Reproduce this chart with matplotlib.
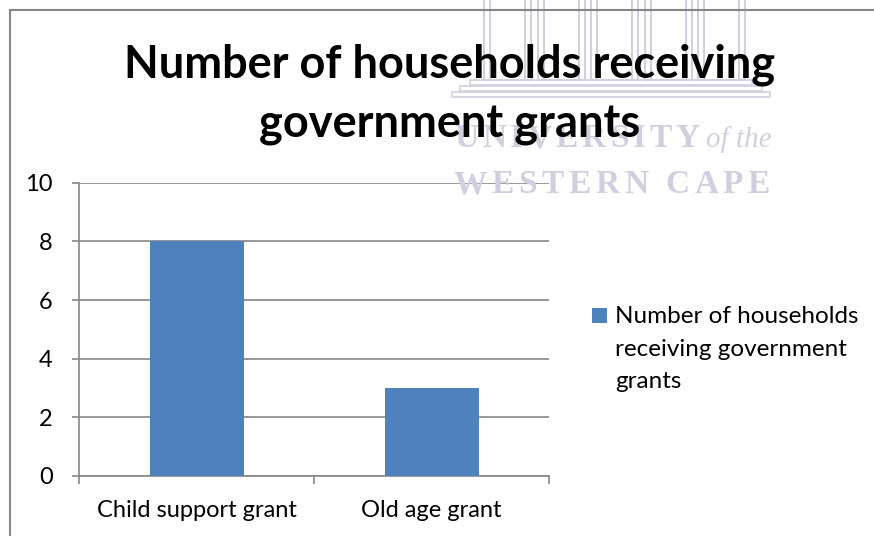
import matplotlib.pyplot as plt
from matplotlib.patches import Rectangle

# Households per grant type
categories = ["Child support grant", "Old age grant"]
households = [8, 3]
legend_lines = ["Number of households", "receiving government", "grants"]
title_lines = ["Number of households receiving", "government grants"]
y_ticks = [0, 2, 4, 6, 8, 10]

BLUE = "#4f81bd"
GRID = "#868686"
MARK = "#cfcfe0"

plt.rcParams['font.family'] = ['Lato', 'DejaVu Sans']

W, H = 874, 536
fig = plt.figure(figsize=(W / 100, H / 100), dpi=100)
renderer = fig.canvas.get_renderer()


def fx(px):
    return px / W


def fy(py):
    return 1 - py / H


# faint university crest behind the chart
for i in range(5):
    x0 = 484 + i * 53.5
    for inset in (0, 6):
        fig.add_artist(Rectangle((fx(x0 + inset), fy(80)), fx(47 - 2 * inset), (80 - inset) / H + 0.02,
                                 transform=fig.transFigure, fill=False, edgecolor=MARK, lw=1.4, zorder=0))
for top, left, right in [(80, 470, 752), (86, 460, 762), (92, 452, 770)]:
    fig.add_artist(Rectangle((fx(left), fy(top + 5)), fx(right - left), 5 / H,
                             transform=fig.transFigure, fill=False, edgecolor=MARK, lw=1.2, zorder=0))


def spaced(text, x0, x1, y, **kw):
    # letter-spaced line of text stretched between x0 and x1
    chars = []
    for ch in text:
        t = fig.text(0, fy(y), ch, ha='left', va='baseline', zorder=0, **kw)
        chars.append((t, t.get_window_extent(renderer).width))
    gap = (x1 - x0 - sum(w for _, w in chars)) / max(len(chars) - 1, 1)
    pos = x0
    for t, w in chars:
        t.set_x(fx(pos))
        pos += w + gap


serif = dict(family='Liberation Serif', fontsize=24, fontweight='bold', color=MARK)
spaced("UNIVERSITY", 454, 700, 147, **serif)
fig.text(fx(706), fy(147), "of the", ha='left', va='baseline', style='italic', zorder=0,
         family='Liberation Serif', fontsize=21, color=MARK)
spaced("WESTERN CAPE", 454, 770, 193, **serif)

# chart area border
fig.add_artist(Rectangle((fx(10), -0.1), 1.2, fy(10) + 0.1, transform=fig.transFigure,
                         fill=False, edgecolor=GRID, lw=1.5, zorder=1))

ax = fig.add_axes([fx(79), fy(476), 470 / W, 293.3 / H])
ax.patch.set_alpha(0)
x = range(len(categories))
ax.bar(x, households, width=0.4, color=BLUE, zorder=3)

ax.set_xlim(-0.5, len(categories) - 0.5)
ax.set_ylim(0, 10)
ax.set_yticks(y_ticks)
ax.set_yticklabels([str(t) for t in y_ticks])
ax.yaxis.grid(True, color=GRID, lw=1.2)
ax.set_axisbelow(True)

ax.set_xticks(list(x))
ax.set_xticklabels(categories)
ax.set_xticks([i - 0.5 for i in range(len(categories) + 1)], minor=True)
ax.tick_params(axis='x', which='major', length=0, pad=17, labelsize=17)
ax.tick_params(axis='x', which='minor', length=6, width=1.2, color=GRID, direction='out')
ax.tick_params(axis='y', length=5, width=1.2, color=GRID, pad=14, labelsize=17)

for side in ('top', 'right'):
    ax.spines[side].set_visible(False)
for side in ('left', 'bottom'):
    ax.spines[side].set_color(GRID)
    ax.spines[side].set_linewidth(1.2)

for line, base in zip(title_lines, (77, 138)):
    fig.text(fx(450), fy(base), line, ha='center', va='baseline',
             fontsize=32.5, fontweight='bold', zorder=5)

# legend
fig.add_artist(Rectangle((fx(592), fy(323)), fx(15), 15 / H, transform=fig.transFigure,
                         facecolor=BLUE, edgecolor='none'))
for line, base in zip(legend_lines, (323, 356, 388)):
    fig.text(fx(615), fy(base), line, ha='left', va='baseline', fontsize=17.5)

fig.savefig("out.png", dpi=100)
